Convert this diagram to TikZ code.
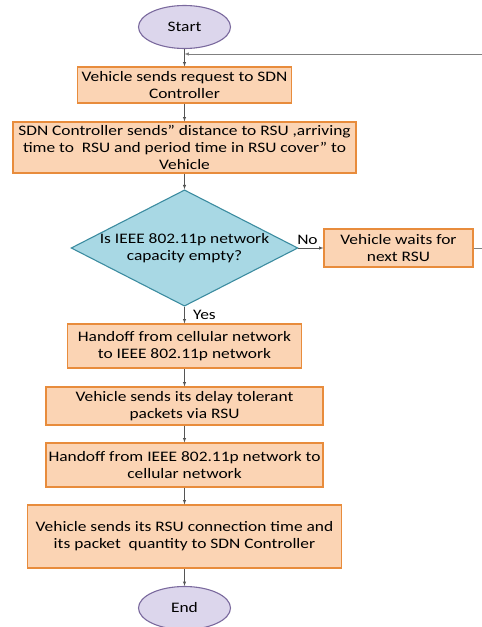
\documentclass[tikz,border=0pt]{standalone}
\usepackage{fontspec}
\setmainfont{Carlito}[FakeStretch=1.2]
\usetikzlibrary{shapes.geometric,arrows,calc}

\definecolor{boxfill}{HTML}{FBD4B4}
\definecolor{boxline}{HTML}{E88C3C}
\definecolor{ovalfill}{HTML}{DCD6EC}
\definecolor{ovalline}{HTML}{7B6A9E}
\definecolor{testfill}{HTML}{A8D8E4}
\definecolor{testline}{HTML}{3C8CA0}
\definecolor{flowline}{HTML}{555555}

\tikzset{
	procbox/.style={draw=boxline, fill=boxfill, line width=1.1pt, align=center, inner sep=0pt},
	terminal/.style={ellipse, draw=ovalline, fill=ovalfill, line width=1.1pt, minimum width=92pt, minimum height=43pt, inner sep=0pt},
	test/.style={diamond, draw=testline, fill=testfill, line width=1.1pt, align=center, aspect=1.95, inner sep=0pt},
	flow/.style={-latex, draw=flowline, line width=0.5pt}
}

\begin{document}
\begin{tikzpicture}[x=1pt, y=-1pt, font=\fontsize{14.5}{17}\selectfont]
	\useasboundingbox (0,0) rectangle (482,627);
	\def\c{184.5} % center column
	
	% start and end
	\node[terminal] (start) at (\c,27) {Start};
	\node[terminal] (end) at (\c,608) {End};
	
	% process boxes
	\node[procbox, minimum width=214pt, minimum height=36pt] (request) at (\c,85)
		{Vehicle sends request to SDN\\Controller};
	\node[procbox, minimum width=343pt, minimum height=51pt] (reply) at (\c,147.5)
		{SDN Controller sends” distance to RSU ,arriving\\time to \ RSU and period time in RSU cover” to\\Vehicle};
	
	% decision
	\node[test] (capacity) at (\c,248) {Is IEEE 802.11p network\\capacity empty?};
	\node[procbox, minimum width=149pt, minimum height=38pt] (wait) at (398.5,248)
		{Vehicle waits for\\next RSU};
	
	\node[procbox, minimum width=234pt, minimum height=44pt] (handin) at (\c,346)
		{Handoff from cellular network\\to IEEE 802.11p network};
	\node[procbox, minimum width=277pt, minimum height=38pt] (packets) at (\c,406)
		{Vehicle sends its delay tolerant\\packets via RSU};
	\node[procbox, minimum width=277pt, minimum height=44pt] (handout) at (\c,465)
		{Handoff from IEEE 802.11p network to\\cellular network};
	\node[procbox, minimum width=314pt, minimum height=63pt] (report) at (\c,536.5)
		{Vehicle sends its RSU connection time and\\its packet \ quantity to SDN Controller};
	
	% joint of the loop back
	\coordinate (J) at (\c,54);
	
	% connectors
	\draw[flow] (start) -- (request);
	\draw[flow] (request) -- (reply);
	\draw[flow] (reply) -- (capacity);
	\draw[flow] (capacity) -- node[above, pos=0.36] {No} (wait);
	\draw[flow] (capacity) -- node[right, xshift=5pt] {Yes} (handin);
	\draw[flow] (handin) -- (packets);
	\draw[flow] (packets) -- (handout);
	\draw[flow] (handout) -- (report);
	\draw[flow] (report) -- (end);
	
	% loop back, its right side lies outside the picture
	\draw[flow, draw=gray] (wait.east) -- ++(20,0) |- (J);
\end{tikzpicture}
\end{document}
